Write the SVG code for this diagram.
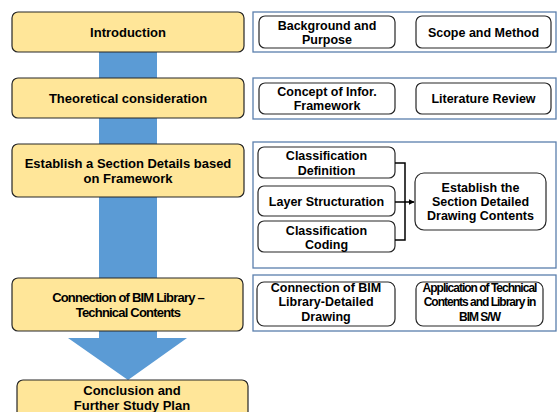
<svg xmlns="http://www.w3.org/2000/svg" width="557" height="412" viewBox="0 0 557 412">
<defs>
<style>
.main{fill:#FFE699;stroke:#262626;stroke-width:1.2}
.cont{fill:#fff;stroke:#5A7FAD;stroke-width:1.3}
.sub{fill:#fff;stroke:#262626;stroke-width:1.2}
text{font-family:"Liberation Sans","Noto Sans",sans-serif;font-weight:bold;font-size:12.5px;fill:#000;text-anchor:middle}
.mt{font-size:13px}
.cond{font-size:13px;letter-spacing:-0.8px}
.cond2{font-size:12px;letter-spacing:-1px}
.link{fill:none;stroke:#000;stroke-width:1.5}
</style>
<marker id="ah" viewBox="0 0 10 10" refX="9" refY="5" markerWidth="6" markerHeight="6" orient="auto" markerUnits="userSpaceOnUse">
<path d="M0,0 L10,5 L0,10 z" fill="#000"/>
</marker>
</defs>
<rect width="557" height="412" fill="#fff"/>
<g id="flow-arrow">
<path d="M99,52 H157 V338 H187 L128,380 L68,338 H99 Z" fill="#5B9BD5"/>
</g>
<g id="introduction">
<rect class="main" x="12" y="12" width="232" height="40" rx="6"/>
<text class="mt" x="128" y="37">Introduction</text>
</g>
<g id="theoretical">
<rect class="main" x="12" y="78" width="232" height="40" rx="6"/>
<text class="mt" x="128" y="103">Theoretical consideration</text>
</g>
<g id="establish">
<rect class="main" x="12" y="144" width="232" height="53" rx="6"/>
<text class="mt" x="128" y="168">Establish a Section Details based</text>
<text class="mt" x="128" y="183">on Framework</text>
</g>
<g id="connection">
<rect class="main" x="12" y="278" width="231" height="53" rx="6"/>
<text class="cond" x="128" y="302">Connection of BIM Library –</text>
<text class="cond" x="128" y="317">Technical Contents</text>
</g>
<g id="conclusion">
<rect class="main" x="17" y="380" width="231" height="45" rx="6"/>
<text class="mt" x="132" y="395">Conclusion and</text>
<text class="mt" x="132" y="410">Further Study Plan</text>
</g>
<g id="group-intro">
<rect class="cont" x="253" y="12" width="303" height="40"/>
</g>
<g id="background">
<rect class="sub" x="259" y="16" width="136" height="32" rx="6"/>
<text x="327" y="30">Background and</text>
<text x="327" y="44">Purpose</text>
</g>
<g id="scope">
<rect class="sub" x="416" y="16" width="135" height="32" rx="6"/>
<text x="483.5" y="37">Scope and Method</text>
</g>
<g id="group-theory">
<rect class="cont" x="253" y="78" width="303" height="41"/>
</g>
<g id="concept">
<rect class="sub" x="259" y="83" width="136" height="31" rx="6"/>
<text x="327" y="96">Concept of Infor.</text>
<text x="327" y="110">Framework</text>
</g>
<g id="literature">
<rect class="sub" x="416" y="83" width="135" height="31" rx="6"/>
<text x="483.5" y="103">Literature Review</text>
</g>
<g id="group-establish">
<rect class="cont" x="253" y="142" width="303" height="126"/>
</g>
<g id="class-def">
<rect class="sub" x="258" y="147" width="137" height="31" rx="6"/>
<text x="326.5" y="160">Classification</text>
<text x="326.5" y="175">Definition</text>
</g>
<g id="layer">
<rect class="sub" x="258" y="186" width="137" height="30" rx="6"/>
<text x="326.5" y="206">Layer Structuration</text>
</g>
<g id="class-coding">
<rect class="sub" x="258" y="221" width="137" height="31" rx="6"/>
<text x="326.5" y="235">Classification</text>
<text x="326.5" y="249">Coding</text>
</g>
<g id="section-contents">
<rect class="sub" x="415" y="173" width="131" height="57" rx="9"/>
<text x="480.5" y="192">Establish the</text>
<text x="480.5" y="206">Section Detailed</text>
<text x="480.5" y="220">Drawing Contents</text>
</g>
<g id="group-bim">
<rect class="cont" x="253" y="275" width="303" height="56"/>
</g>
<g id="bim-detail">
<rect class="sub" x="257" y="282" width="138" height="44" rx="7"/>
<text x="326" y="292">Connection of BIM</text>
<text x="326" y="306">Library-Detailed</text>
<text x="326" y="321">Drawing</text>
</g>
<g id="application">
<rect class="sub" x="416" y="282" width="127" height="44" rx="7"/>
<text class="cond2" x="479.5" y="292">Application of Technical</text>
<text class="cond2" x="479.5" y="306">Contents and Library in</text>
<text class="cond2" x="479.5" y="321">BIM S/W</text>
</g>
<g id="connectors">
<path class="link" d="M395,163 H405 V240 H395"/>
<path class="link" d="M395,202 H414" marker-end="url(#ah)"/>
</g>
</svg>
